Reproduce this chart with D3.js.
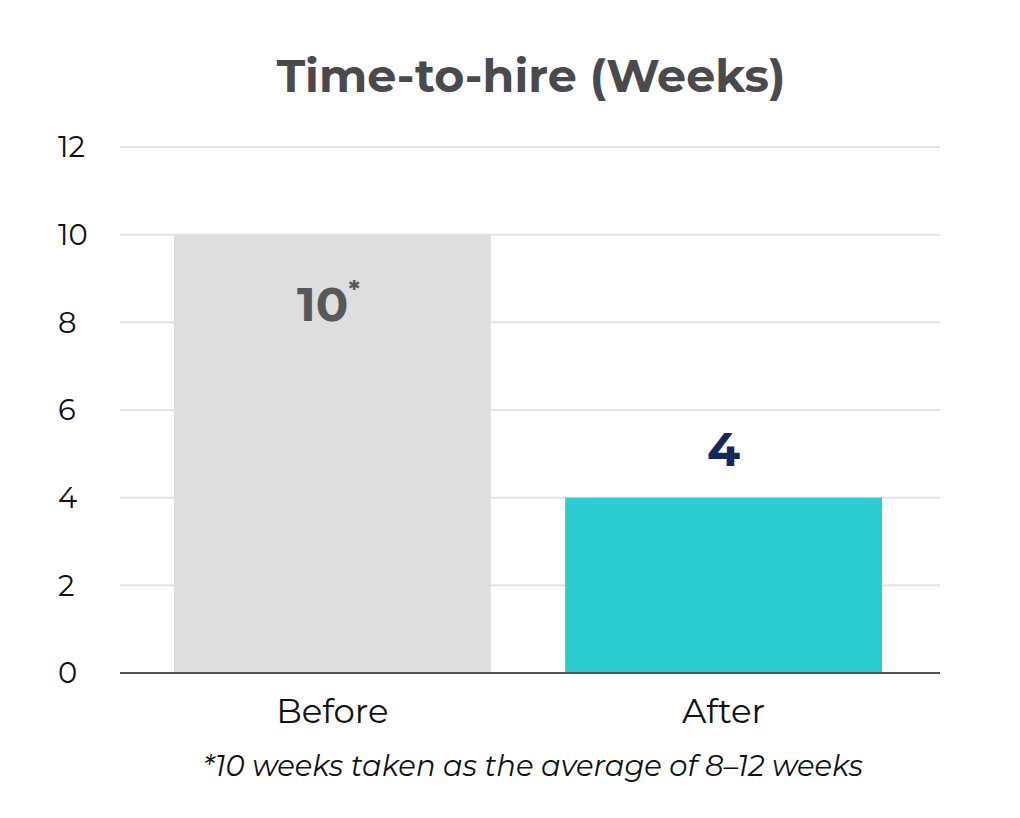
<!DOCTYPE html>
<html><head><meta charset="utf-8">
<script src="https://cdn.jsdelivr.net/npm/d3@7"></script>
<style>body{margin:0;background:#fff}text{font-family:Montserrat,"Open Sans",sans-serif}</style>
</head><body><div id="chart"></div>
<script>
var categories = ["Before", "After"];
var values = [10, 4];
var valueLabels = ["10", "4"];
var yTicks = [0, 2, 4, 6, 8, 10, 12];

var svgWidth = 1020, svgHeight = 818;
var margin = {top: 147, right: 80, bottom: 145, left: 120};
var width = svgWidth - margin.left - margin.right;
var height = svgHeight - margin.top - margin.bottom;

var svg = d3.select("#chart").append("svg")
  .attr("width", svgWidth).attr("height", svgHeight);
var g = svg.append("g").attr("transform", `translate(${margin.left},${margin.top})`);

var x = d3.scaleBand().domain(categories).range([-2, width - 2])
  .paddingInner(0.19).paddingOuter(0.143);
var y = d3.scaleLinear().domain([0, 12]).range([height, 0]);

// gridlines
g.selectAll(".grid").data(yTicks.slice(1)).enter().append("line")
  .attr("x1", 0).attr("x2", width)
  .attr("y1", d => y(d)).attr("y2", d => y(d))
  .attr("stroke", "#e3e3e3").attr("stroke-width", 2);

// y tick labels
g.selectAll(".ytick").data(yTicks).enter().append("text")
  .attr("x", -62).attr("y", d => y(d)).attr("dy", "0.36em")
  .style("font-size", "29px").attr("fill", "#111")
  .text(d => d);

// bars
g.selectAll(".bar").data(values).enter().append("rect")
  .attr("x", (d, i) => x(categories[i]))
  .attr("y", d => y(d))
  .attr("width", x.bandwidth())
  .attr("height", d => height - y(d))
  .attr("fill", (d, i) => i === 0 ? "#dedede" : "#2ccdd0");

// baseline
g.append("line").attr("x1", 0).attr("x2", width)
  .attr("y1", height).attr("y2", height)
  .attr("stroke", "#555").attr("stroke-width", 2);

// value labels
var v0 = g.append("text")
  .attr("x", x(categories[0]) + x.bandwidth() / 2 - 4).attr("y", y(values[0]) + 86)
  .attr("text-anchor", "middle").style("font-size", "48px").style("font-weight", "bold")
  .attr("fill", "#58585a");
v0.append("tspan").text(valueLabels[0]);
v0.append("tspan").attr("dy", "-22").style("font-size", "26px").text("*");

g.append("text")
  .attr("x", x(categories[1]) + x.bandwidth() / 2).attr("y", y(values[1]) - 32)
  .attr("text-anchor", "middle").style("font-size", "48px").style("font-weight", "bold")
  .attr("fill", "#14295a").text(valueLabels[1]);

// category labels
g.selectAll(".xlab").data(categories).enter().append("text")
  .attr("x", d => x(d) + x.bandwidth() / 2).attr("y", height + 50)
  .attr("text-anchor", "middle").style("font-size", "34px").attr("fill", "#111")
  .text(d => d);

// title
svg.append("text").attr("x", 531).attr("y", 92).attr("text-anchor", "middle")
  .style("font-size", "46px").style("font-weight", "bold").attr("fill", "#4a4a4d")
  .text("Time-to-hire (Weeks)");

// footnote
svg.append("text").attr("x", 533).attr("y", 776).attr("text-anchor", "middle")
  .style("font-size", "29px").style("font-style", "italic").attr("fill", "#111")
  .text("*10 weeks taken as the average of 8–12 weeks");
</script></body></html>
